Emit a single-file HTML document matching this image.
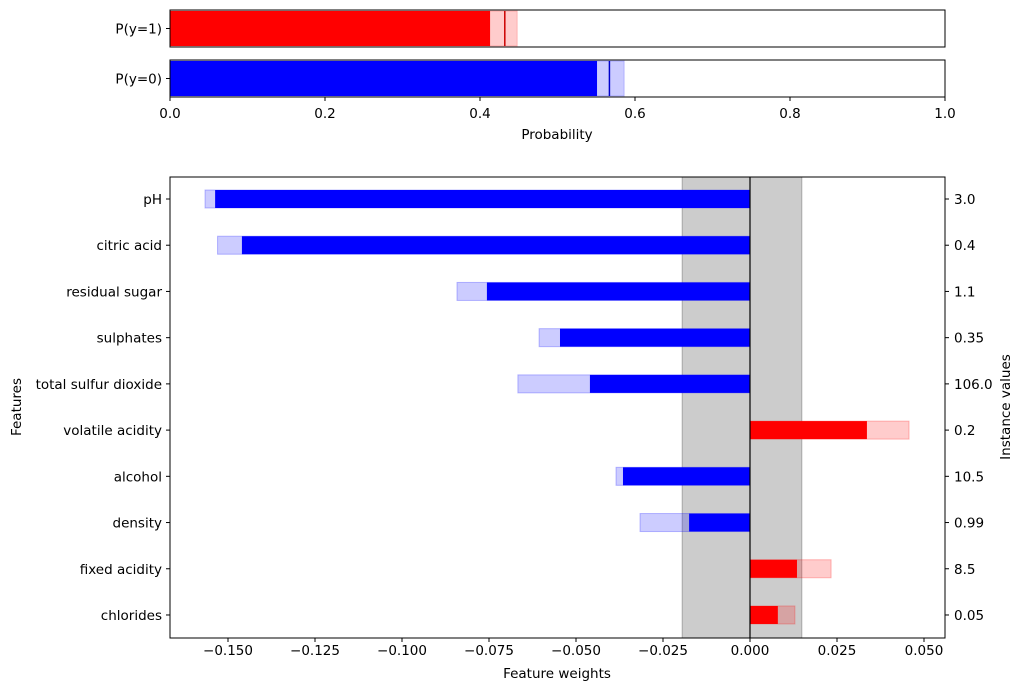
<!DOCTYPE html>
<html><head><meta charset="utf-8"><style>
body{margin:0;background:#fff}
svg text{font-family:"DejaVu Sans","Liberation Sans",sans-serif;font-size:13.5px;fill:#000}
</style></head><body>
<svg id="c" width="1023" height="691" xmlns="http://www.w3.org/2000/svg"></svg>
<script>
const probLabels=["P(y=1)","P(y=0)"];
const probValues=[0.413,0.551];
const probUpper=[0.448,0.586];
const probMid=[0.432,0.567];
const probTicks=[0,0.2,0.4,0.6,0.8,1.0];
const features=["pH","citric acid","residual sugar","sulphates","total sulfur dioxide","volatile acidity","alcohol","density","fixed acidity","chlorides"];
const instanceValues=["3.0","0.4","1.1","0.35","106.0","0.2","10.5","0.99","8.5","0.05"];
const weights=[-0.1537,-0.146,-0.0756,-0.0546,-0.046,0.0336,-0.0365,-0.0175,0.0135,0.008];
const weightsUpper=[-0.1566,-0.153,-0.0842,-0.0606,-0.0667,0.0457,-0.0385,-0.0316,0.0233,0.0129];
const weightTicks=[-0.150,-0.125,-0.100,-0.075,-0.050,-0.025,0.000,0.025,0.050];
const spanRange=[-0.0195,0.0149];

const svg=document.getElementById('c');const NS='http://www.w3.org/2000/svg';
function mk(t,a,name,txt){const e=document.createElementNS(NS,t);for(const k in a)e.setAttribute(k,a[k]);


if(txt!==undefined)e.textContent=txt;svg.appendChild(e);return e;}
// top chart
const px=v=>170+v*775;
const boxes=[[10,47],[60,97]];
const cols=[["#ff0000","rgba(255,0,0,0.2)","#cc0000"],["#0000ff","rgba(0,0,255,0.2)","#0000cc"]];
probLabels.forEach((l,i)=>{const [t,b]=boxes[i];
mk('rect',{x:px(0),y:t+1,width:px(probUpper[i])-px(0),height:b-t-2,fill:cols[i][1],stroke:cols[i][1]},'prob-uncertainty-'+i);
mk('rect',{x:px(0),y:t+1,width:px(probValues[i])-px(0),height:b-t-2,fill:cols[i][0]},'prob-bar-'+i);
mk('line',{x1:px(probMid[i]),x2:px(probMid[i]),y1:t+1,y2:b-1,stroke:cols[i][2],'stroke-width':1.5},'prob-mean-line-'+i);
mk('rect',{x:170,y:t,width:775,height:b-t,fill:'none',stroke:'#000','stroke-width':1},'prob-axes-'+i);
mk('line',{x1:166,x2:170,y1:(t+b)/2,y2:(t+b)/2,stroke:'#000'},'prob-ytick');
mk('text',{x:162,y:(t+b)/2+5,'text-anchor':'end'},'prob-label-'+i,l);});
probTicks.forEach(v=>{mk('line',{x1:px(v),x2:px(v),y1:97,y2:101,stroke:'#000'},'prob-xtick');
mk('text',{x:px(v),y:118,'text-anchor':'middle'},'prob-xtick-label',v.toFixed(1));});
mk('text',{x:557,y:139,'text-anchor':'middle'},'prob-x-title','Probability');
// main chart
const T=177,B=638,L=170,R=945;
const wx=v=>750+v*3480;
const ry=i=>199+i*46.22;
mk('rect',{x:wx(spanRange[0]),y:T,width:wx(spanRange[1])-wx(spanRange[0]),height:B-T,fill:'rgba(0,0,0,0.2)',stroke:'rgba(0,0,0,0.25)'},'uncertainty-span');
features.forEach((f,i)=>{const y=ry(i)-9;const c=weights[i]<0?0:1;const cc=c?cols[0]:cols[1];
const lc=c?'rgba(255,0,0,0.2)':'rgba(0,0,255,0.2)';
const x0=Math.min(wx(0),wx(weightsUpper[i])),x1=Math.max(wx(0),wx(weightsUpper[i]));
mk('rect',{x:x0,y:y,width:x1-x0,height:18,fill:lc,stroke:c?'rgba(255,0,0,0.25)':'rgba(0,0,255,0.25)'},'weight-uncertainty-'+i);
const d0=Math.min(wx(0),wx(weights[i])),d1=Math.max(wx(0),wx(weights[i]));
mk('rect',{x:d0,y:y,width:d1-d0,height:18,fill:cc[0]},'weight-bar-'+i);
mk('line',{x1:L-4,x2:L,y1:ry(i),y2:ry(i),stroke:'#000'},'ytick');
mk('text',{x:L-8,y:ry(i)+5,'text-anchor':'end'},'feature-label-'+i,f);
mk('line',{x1:R,x2:R+4,y1:ry(i),y2:ry(i),stroke:'#000'},'ytick-right');
mk('text',{x:R+9,y:ry(i)+5},'instance-value-'+i,instanceValues[i]);});
mk('line',{x1:wx(0),x2:wx(0),y1:T,y2:B,stroke:'#000','stroke-width':1.2},'zero-line');
mk('rect',{x:L,y:T,width:R-L,height:B-T,fill:'none',stroke:'#000'},'main-axes');
weightTicks.forEach(v=>{mk('line',{x1:wx(v),x2:wx(v),y1:B,y2:B+4,stroke:'#000'},'xtick');
mk('text',{x:wx(v),y:B+12+5,'text-anchor':'middle'},'xtick-label',v.toFixed(3).replace('-','\u2212'));});
mk('text',{x:557,y:678,'text-anchor':'middle'},'x-axis-title','Feature weights');
mk('text',{x:21,y:407,'text-anchor':'middle',transform:'rotate(-90 21 407)'},'y-axis-title','Features');
mk('text',{x:1010,y:407,'text-anchor':'middle',transform:'rotate(-90 1010 407)'},'y2-axis-title','Instance values');
</script>
</body></html>
